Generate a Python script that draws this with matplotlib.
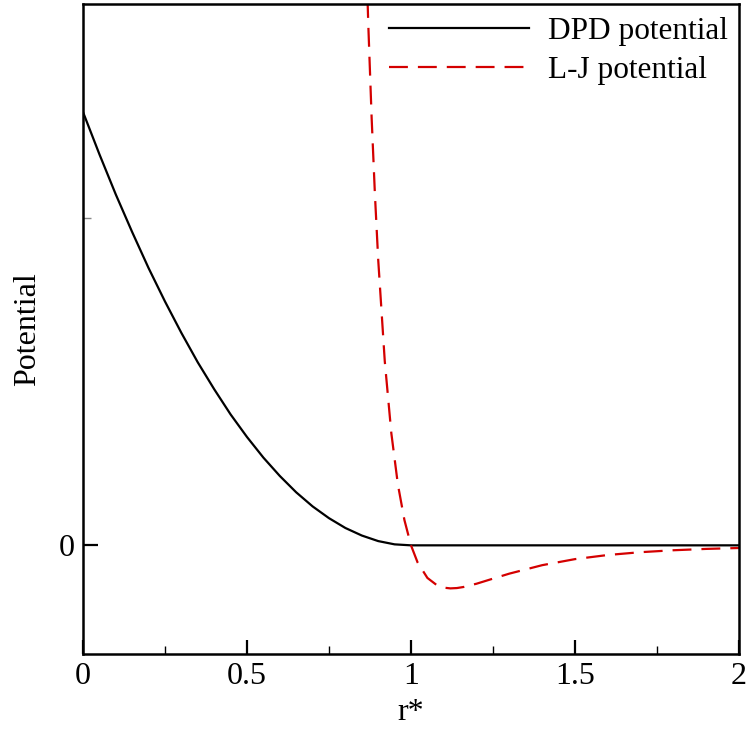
import matplotlib.pyplot as plt
from matplotlib.ticker import FixedLocator, MultipleLocator

# DPD 勢能 (讀圖估計)
r_dpd = [0.0, 0.05, 0.1, 0.15, 0.2, 0.25, 0.3, 0.35, 0.4, 0.45, 0.5,
         0.55, 0.6, 0.65, 0.7, 0.75, 0.8, 0.85, 0.9, 0.95, 1.0, 1.5, 2.0]
u_dpd = [1.324, 1.195, 1.072, 0.957, 0.847, 0.745, 0.649, 0.559, 0.477, 0.400, 0.331,
         0.268, 0.212, 0.162, 0.119, 0.083, 0.053, 0.030, 0.013, 0.003, 0.0, 0.0, 0.0]

# L-J 勢能 (讀圖估計)
r_lj = [0.86, 0.87, 0.88, 0.89, 0.90, 0.92, 0.94, 0.96, 0.98, 1.0, 1.02, 1.05,
        1.08, 1.10, 1.12, 1.14, 1.16, 1.2, 1.25, 1.3, 1.4, 1.5, 1.6, 1.7, 1.8, 1.9, 2.0]
u_lj = [1.913, 1.585, 1.306, 1.072, 0.873, 0.563, 0.343, 0.186, 0.077, 0.0, -0.052, -0.0996,
        -0.1226, -0.1293, -0.1315, -0.1305, -0.1273, -0.1172, -0.1017, -0.0864, -0.0606,
        -0.0421, -0.0295, -0.0209, -0.0150, -0.0109, -0.0081]

plt.rcParams['font.family'] = ['Liberation Serif', 'DejaVu Serif']

fig = plt.figure(figsize=(7.51, 7.29), dpi=100)
ax = fig.add_axes([83 / 751, 75 / 729, 656 / 751, 650 / 729])

ax.plot(r_dpd, u_dpd, color='black', linewidth=1.6, label='DPD potential')
ax.plot(r_lj, u_lj, color='#d40000', linewidth=1.6, dashes=(8.5, 4.5), label='L-J potential')

ax.set_xlim(0, 2)
ax.set_ylim(-0.332, 1.654)

ax.set_xticks([0, 0.5, 1, 1.5, 2])
ax.set_xticklabels(['0', '0.5', '1', '1.5', '2'])
ax.xaxis.set_minor_locator(MultipleLocator(0.25))
ax.set_yticks([0])
ax.set_yticklabels(['0'])
ax.yaxis.set_minor_locator(FixedLocator([1.0]))

ax.tick_params(axis='both', which='major', direction='in', length=10, width=1.6,
               labelsize=23, pad=6, top=False, right=False)
ax.tick_params(axis='x', which='minor', direction='in', length=6, width=1.0, top=False)
ax.tick_params(axis='y', which='minor', direction='in', length=6, width=1.0,
               color='#888888', right=False)
ax.tick_params(axis='y', which='major', length=11)

for s in ax.spines.values():
    s.set_linewidth(1.8)

ax.set_xlabel('r*', fontsize=23, labelpad=5)
ax.set_ylabel('Potential', fontsize=23, labelpad=12)

leg = ax.legend(loc='upper right', bbox_to_anchor=(1.0, 0.997), frameon=False,
                fontsize=22.5, handlelength=4.5, handletextpad=0.6,
                labelspacing=0.32, borderpad=0.15, borderaxespad=0.2)

plt.savefig('out.png', dpi=100)
